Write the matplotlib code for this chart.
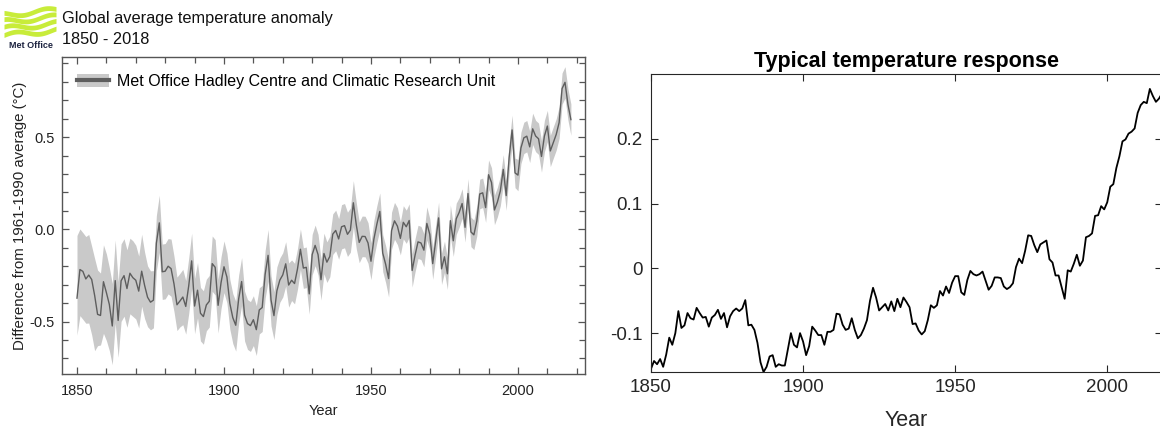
import numpy as np
import matplotlib.pyplot as plt
from matplotlib.patches import Patch
from matplotlib.lines import Line2D
from matplotlib.ticker import MultipleLocator

plt.rcParams['font.family'] = ['Liberation Sans', 'DejaVu Sans']

years = np.arange(1850, 2019)

# HadCRUT4 annual anomaly (deg C, vs 1961-1990)
hadcrut = [
    -0.373, -0.218, -0.228, -0.269, -0.248, -0.272, -0.358, -0.461, -0.467, -0.284,
    -0.343, -0.407, -0.524, -0.278, -0.494, -0.279, -0.251, -0.321, -0.238, -0.262,
    -0.276, -0.335, -0.227, -0.304, -0.368, -0.395, -0.384, -0.075, 0.035, -0.230,
    -0.227, -0.200, -0.213, -0.296, -0.409, -0.389, -0.367, -0.418, -0.307, -0.171,
    -0.416, -0.330, -0.455, -0.473, -0.410, -0.390, -0.186, -0.206, -0.412, -0.289,
    -0.203, -0.259, -0.402, -0.479, -0.520, -0.377, -0.283, -0.465, -0.511, -0.522,
    -0.490, -0.544, -0.437, -0.424, -0.244, -0.141, -0.383, -0.468, -0.333, -0.275,
    -0.247, -0.187, -0.302, -0.276, -0.294, -0.215, -0.108, -0.210, -0.206, -0.350,
    -0.137, -0.087, -0.137, -0.273, -0.131, -0.178, -0.147, -0.026, -0.006, -0.052,
    0.014, 0.020, -0.027, -0.004, 0.144, 0.025, -0.071, -0.038, -0.039, -0.074,
    -0.173, -0.052, 0.028, 0.097, -0.129, -0.190, -0.267, -0.007, 0.046, 0.017,
    -0.049, 0.038, 0.014, 0.048, -0.223, -0.140, -0.068, -0.074, -0.113, 0.032,
    -0.027, -0.186, -0.065, 0.062, -0.214, -0.149, -0.241, 0.047, -0.062, 0.057,
    0.092, 0.140, 0.011, 0.194, -0.014, -0.030, 0.045, 0.192, 0.198, 0.118,
    0.296, 0.254, 0.105, 0.148, 0.208, 0.325, 0.183, 0.390, 0.539, 0.306,
    0.294, 0.441, 0.496, 0.505, 0.447, 0.545, 0.506, 0.491, 0.395, 0.506,
    0.560, 0.425, 0.470, 0.514, 0.579, 0.763, 0.797, 0.677, 0.595,
]

# distance from the line to the top / bottom of the grey band
upper_err = [
    0.34, 0.22, 0.21, 0.23, 0.22, 0.18, 0.20, 0.24, 0.23, 0.20,
    0.21, 0.20, 0.23, 0.22, 0.21, 0.20, 0.20, 0.21, 0.19, 0.20,
    0.19, 0.19, 0.20, 0.18, 0.17, 0.17, 0.16, 0.15, 0.15, 0.15,
    0.15, 0.15, 0.16, 0.15, 0.15, 0.15, 0.15, 0.14, 0.15, 0.15,
    0.15, 0.15, 0.14, 0.14, 0.14, 0.14, 0.15, 0.15, 0.14, 0.14,
    0.14, 0.13, 0.13, 0.13, 0.13, 0.13, 0.13, 0.13, 0.13, 0.13,
    0.13, 0.13, 0.12, 0.12, 0.13, 0.14, 0.13, 0.13, 0.13, 0.12,
    0.12, 0.12, 0.12, 0.11, 0.11, 0.11, 0.11, 0.11, 0.11, 0.11,
    0.11, 0.11, 0.11, 0.11, 0.11, 0.11, 0.11, 0.11, 0.11, 0.11,
    0.12, 0.12, 0.12, 0.12, 0.12, 0.12, 0.11, 0.11, 0.11, 0.11,
    0.10, 0.10, 0.10, 0.10, 0.10, 0.10, 0.10, 0.10, 0.10, 0.10,
    0.09, 0.09, 0.09, 0.09, 0.09, 0.09, 0.09, 0.09, 0.09, 0.09,
    0.085, 0.085, 0.085, 0.085, 0.085, 0.085, 0.085, 0.085, 0.085, 0.085,
    0.08, 0.08, 0.08, 0.08, 0.08, 0.08, 0.08, 0.08, 0.08, 0.08,
    0.08, 0.08, 0.08, 0.08, 0.08, 0.08, 0.08, 0.08, 0.08, 0.08,
    0.085, 0.085, 0.085, 0.085, 0.085, 0.085, 0.085, 0.085, 0.085, 0.085,
    0.085, 0.085, 0.085, 0.085, 0.085, 0.085, 0.085, 0.085, 0.085,
]
lower_err = [
    0.20, 0.25, 0.26, 0.24, 0.26, 0.30, 0.30, 0.17, 0.16, 0.28,
    0.26, 0.25, 0.21, 0.23, 0.20, 0.22, 0.22, 0.21, 0.22, 0.21,
    0.21, 0.20, 0.19, 0.18, 0.16, 0.15, 0.15, 0.15, 0.16, 0.15,
    0.15, 0.15, 0.15, 0.15, 0.14, 0.14, 0.15, 0.15, 0.15, 0.15,
    0.15, 0.15, 0.15, 0.15, 0.14, 0.14, 0.15, 0.15, 0.15, 0.14,
    0.14, 0.14, 0.14, 0.14, 0.14, 0.13, 0.13, 0.14, 0.14, 0.14,
    0.14, 0.14, 0.13, 0.13, 0.13, 0.14, 0.14, 0.13, 0.13, 0.12,
    0.12, 0.12, 0.12, 0.11, 0.11, 0.11, 0.11, 0.11, 0.11, 0.11,
    0.11, 0.11, 0.11, 0.11, 0.11, 0.11, 0.11, 0.11, 0.11, 0.11,
    0.12, 0.12, 0.12, 0.12, 0.13, 0.13, 0.11, 0.11, 0.11, 0.11,
    0.10, 0.10, 0.10, 0.10, 0.10, 0.10, 0.10, 0.10, 0.10, 0.10,
    0.09, 0.09, 0.09, 0.09, 0.09, 0.09, 0.09, 0.09, 0.09, 0.09,
    0.085, 0.085, 0.085, 0.085, 0.085, 0.085, 0.085, 0.085, 0.085, 0.085,
    0.08, 0.08, 0.08, 0.08, 0.08, 0.08, 0.08, 0.08, 0.08, 0.08,
    0.08, 0.08, 0.08, 0.08, 0.08, 0.08, 0.08, 0.08, 0.08, 0.08,
    0.085, 0.085, 0.085, 0.085, 0.085, 0.085, 0.085, 0.085, 0.085, 0.085,
    0.085, 0.085, 0.085, 0.085, 0.085, 0.085, 0.085, 0.085, 0.085,
]

# typical temperature response (right panel)
response = [
    -0.155, -0.143, -0.148, -0.140, -0.152, -0.133, -0.107, -0.118, -0.100, -0.066,
    -0.092, -0.088, -0.069, -0.077, -0.079, -0.061, -0.069, -0.076, -0.075, -0.090,
    -0.076, -0.072, -0.064, -0.078, -0.069, -0.091, -0.074, -0.066, -0.062, -0.066,
    -0.062, -0.049, -0.088, -0.087, -0.095, -0.115, -0.145, -0.160, -0.152, -0.136,
    -0.134, -0.152, -0.148, -0.150, -0.150, -0.125, -0.100, -0.118, -0.122, -0.100,
    -0.113, -0.134, -0.120, -0.090, -0.096, -0.103, -0.103, -0.118, -0.098, -0.098,
    -0.095, -0.070, -0.071, -0.087, -0.095, -0.093, -0.077, -0.095, -0.108, -0.103,
    -0.093, -0.080, -0.050, -0.030, -0.045, -0.065, -0.060, -0.055, -0.065, -0.051,
    -0.066, -0.047, -0.060, -0.045, -0.052, -0.060, -0.086, -0.085, -0.096, -0.102,
    -0.097, -0.080, -0.057, -0.061, -0.057, -0.035, -0.042, -0.028, -0.038, -0.022,
    -0.012, -0.012, -0.037, -0.041, -0.018, -0.004, -0.009, -0.011, -0.009, -0.005,
    -0.019, -0.033, -0.027, -0.014, -0.014, -0.015, -0.028, -0.032, -0.029, -0.023,
    0.002, 0.015, 0.008, 0.027, 0.051, 0.050, 0.036, 0.025, 0.037, 0.040,
    0.043, 0.014, 0.009, -0.011, -0.011, -0.029, -0.047, -0.003, -0.005, 0.007,
    0.021, 0.004, 0.012, 0.048, 0.050, 0.054, 0.081, 0.082, 0.096, 0.091,
    0.102, 0.126, 0.130, 0.155, 0.173, 0.196, 0.199, 0.208, 0.211, 0.216,
    0.240, 0.252, 0.257, 0.255, 0.277, 0.266, 0.257, 0.262, 0.270,
]

hadcrut = np.array(hadcrut)
band_top = hadcrut + np.array(upper_err)
band_bot = hadcrut - np.array(lower_err)

fig = plt.figure(figsize=(11.6, 4.32), dpi=100)

# ---------------- left panel: Met Office chart ----------------
frame_col = '#555555'
ax1 = fig.add_axes([62 / 1160, 1 - 374.3 / 432, 523 / 1160, 317.6 / 432])
ax1.fill_between(years, band_bot, band_top, color='#c9c9c9', lw=0)
ax1.plot(years, hadcrut, color='#5e5e5e', lw=1.0)
ax1.set_xlim(1844.9, 2022.8)
ax1.set_ylim(-0.786, 0.936)
ax1.xaxis.set_major_locator(MultipleLocator(50))
ax1.xaxis.set_minor_locator(MultipleLocator(10))
ax1.yaxis.set_major_locator(MultipleLocator(0.5))
ax1.yaxis.set_minor_locator(MultipleLocator(0.1))
ax1.set_yticks([-0.5, 0.0, 0.5], ['-0.5', '0.0', '0.5'])
ax1.tick_params(which='both', direction='in', top=True, right=True,
                color=frame_col, labelsize=10.5, labelcolor='#222222')
ax1.tick_params(which='major', length=5, width=0.9)
ax1.tick_params(which='minor', length=4, width=0.9)
ax1.tick_params(axis='x', pad=7)
ax1.tick_params(axis='y', pad=5)
for sp in ax1.spines.values():
    sp.set_color(frame_col)
    sp.set_linewidth(1.0)
ax1.set_xlabel('Year', fontsize=10.5, labelpad=4, color='#222222')
ax1.set_ylabel('Difference from 1961-1990 average (°C)', fontsize=10.8,
               labelpad=2, color='#222222')

handle = (Patch(facecolor='#c9c9c9', edgecolor='none'),
          Line2D([], [], color='#5e5e5e', lw=3))
ax1.legend([handle], ['Met Office Hadley Centre and Climatic Research Unit'],
           loc='upper left', bbox_to_anchor=(0.029, 0.945), frameon=False,
           fontsize=11.5, handlelength=2.0, handleheight=0.9, handletextpad=0.5,
           borderpad=0, borderaxespad=0)

# title next to logo
fig.text(62 / 1160, 1 - 18 / 432, 'Global average temperature anomaly',
         fontsize=11.8, va='center', ha='left', color='#111111')
fig.text(62 / 1160, 1 - 40 / 432, '1850 - 2018',
         fontsize=11.8, va='center', ha='left', color='#111111')

# Met Office logo (waves + name)
logo = fig.add_axes([4 / 1160, 1 - 38 / 432, 52 / 1160, 34 / 432])
xs = np.linspace(0, 1, 60)
for k in range(4):
    base = 0.02 + 0.24 * k + 0.18 * xs
    wave = 0.08 * np.sin(2 * np.pi * (xs * 1.1 + 0.12 * k))
    logo.fill_between(xs, base + wave, base + wave + 0.17, color='#c8ec3a', lw=0)
logo.set_xlim(0, 1)
logo.set_ylim(0, 1.2)
logo.axis('off')
fig.text(31 / 1160, 1 - 46 / 432, 'Met Office', fontsize=6.5, weight='bold',
         ha='center', va='center', color='#1c2340')

# ---------------- right panel: typical response ----------------
dark = '#262626'
ax2 = fig.add_axes([651 / 1160, 1 - 372 / 432, 511 / 1160, 298 / 432])
ax2.plot(years, response, color='black', lw=1.3)
ax2.set_xlim(1850, 2018)
ax2.set_ylim(-0.16, 0.3)
ax2.set_xticks([1850, 1900, 1950, 2000])
ax2.set_yticks([-0.1, 0, 0.1, 0.2], ['-0.1', '0', '0.1', '0.2'])
ax2.tick_params(direction='in', top=True, right=True, length=5, width=0.8,
                color=dark, labelsize=13.5, labelcolor=dark)
ax2.tick_params(axis='x', pad=5)
ax2.tick_params(axis='y', pad=6)
for sp in ax2.spines.values():
    sp.set_color(dark)
    sp.set_linewidth(0.8)
ax2.set_title('Typical temperature response', fontsize=15.5, weight='bold',
              pad=5, color='black')
ax2.set_xlabel('Year', fontsize=15.5, labelpad=10, color=dark)

fig.savefig('out.png', dpi=100)
